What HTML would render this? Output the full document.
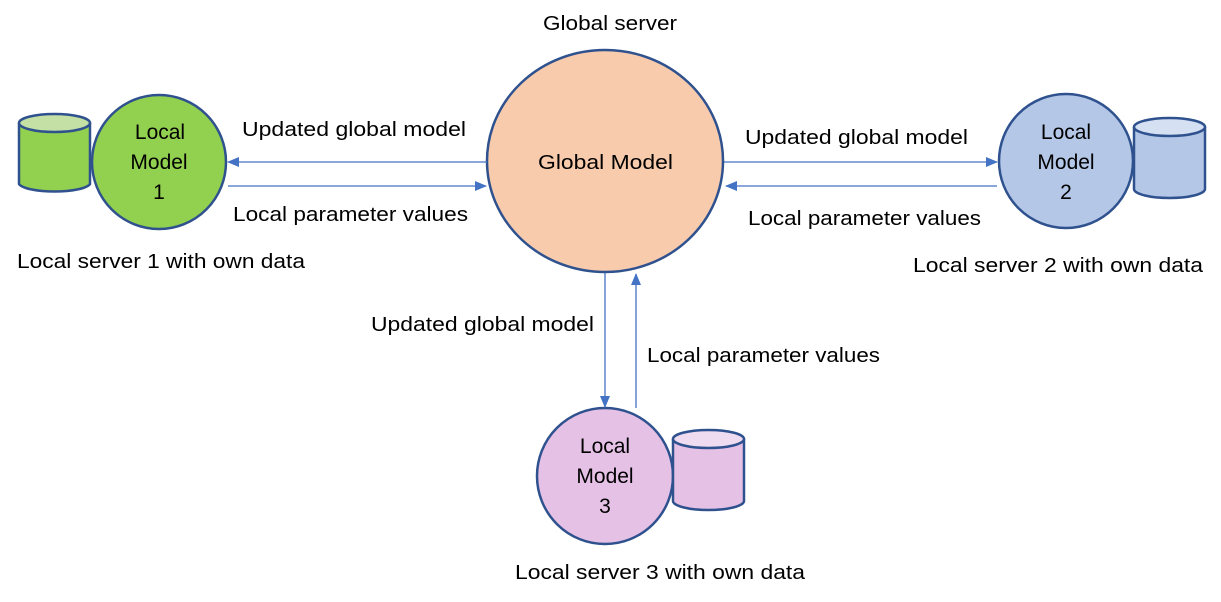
<!DOCTYPE html>
<html><head><meta charset="utf-8"><style>
html,body{margin:0;padding:0;background:#fff;}
svg{display:block;}
text{font-family:"Liberation Sans",sans-serif;font-size:20px;fill:#000;}
.c{font-size:21px;}
</style></head><body>
<svg width="1221" height="602" viewBox="0 0 1221 602" xmlns="http://www.w3.org/2000/svg">
<defs>
<marker id="ah" markerWidth="12" markerHeight="10" refX="11" refY="5" orient="auto" markerUnits="userSpaceOnUse">
<path d="M0,0 L12,5 L0,10 z" fill="#4472c4"/>
</marker>
</defs>
<g stroke="#2f528f" stroke-width="2.5">
<path d="M19,123 L19,184 A36,9 0 0 0 90,184 L90,123" fill="#92d050"/>
<ellipse cx="54.5" cy="123" rx="35.5" ry="9" fill="#c5e0a5"/>
<circle cx="159" cy="162" r="67" fill="#92d050"/>
<ellipse cx="605" cy="161" rx="118" ry="111" fill="#f8cbad"/>
<circle cx="1066" cy="161" r="67" fill="#b4c7e7"/>
<path d="M1134,127 L1134,189 A35.5,9 0 0 0 1205,189 L1205,127" fill="#b4c7e7"/>
<ellipse cx="1169.5" cy="127" rx="35.5" ry="9" fill="#d6e0f3"/>
<circle cx="605" cy="476" r="68" fill="#e6c1e6"/>
<path d="M673,439 L673,501 A35.5,9 0 0 0 744,501 L744,439" fill="#e6c1e6"/>
<ellipse cx="708.5" cy="439" rx="35.5" ry="9" fill="#f0dcf0"/>
</g>
<g stroke="#4472c4" stroke-width="1.3" fill="none">
<line x1="487" y1="162" x2="228" y2="162" marker-end="url(#ah)"/>
<line x1="228" y1="186" x2="486" y2="186" marker-end="url(#ah)"/>
<line x1="724" y1="162" x2="997" y2="162" marker-end="url(#ah)"/>
<line x1="997" y1="186" x2="726" y2="186" marker-end="url(#ah)"/>
<line x1="605" y1="273" x2="605" y2="407" marker-end="url(#ah)"/>
<line x1="636" y1="408" x2="636" y2="274" marker-end="url(#ah)"/>
</g>
<g text-anchor="middle" class="c">
<text class="c" x="160" y="139">Local</text>
<text class="c" x="159" y="169">Model</text>
<text class="c" x="159" y="199">1</text>
<text class="c" x="1066" y="139">Local</text>
<text class="c" x="1066" y="169">Model</text>
<text class="c" x="1066" y="199">2</text>
<text class="c" x="605" y="453">Local</text>
<text class="c" x="605" y="483">Model</text>
<text class="c" x="605" y="513">3</text>
</g>
<text x="538" y="169" textLength="135" lengthAdjust="spacingAndGlyphs">Global Model</text>
<text x="543" y="30" textLength="134" lengthAdjust="spacingAndGlyphs">Global server</text>
<text x="242" y="136" textLength="224" lengthAdjust="spacingAndGlyphs">Updated global model</text>
<text x="233" y="221" textLength="235" lengthAdjust="spacingAndGlyphs">Local parameter values</text>
<text x="17" y="268" textLength="288" lengthAdjust="spacingAndGlyphs">Local server 1 with own data</text>
<text x="745" y="144" textLength="223" lengthAdjust="spacingAndGlyphs">Updated global model</text>
<text x="748" y="225" textLength="233" lengthAdjust="spacingAndGlyphs">Local parameter values</text>
<text x="913" y="272" textLength="290" lengthAdjust="spacingAndGlyphs">Local server 2 with own data</text>
<text x="371" y="331" textLength="223" lengthAdjust="spacingAndGlyphs">Updated global model</text>
<text x="647" y="362" textLength="233" lengthAdjust="spacingAndGlyphs">Local parameter values</text>
<text x="515" y="579" textLength="290" lengthAdjust="spacingAndGlyphs">Local server 3 with own data</text>
</svg>
</body></html>
